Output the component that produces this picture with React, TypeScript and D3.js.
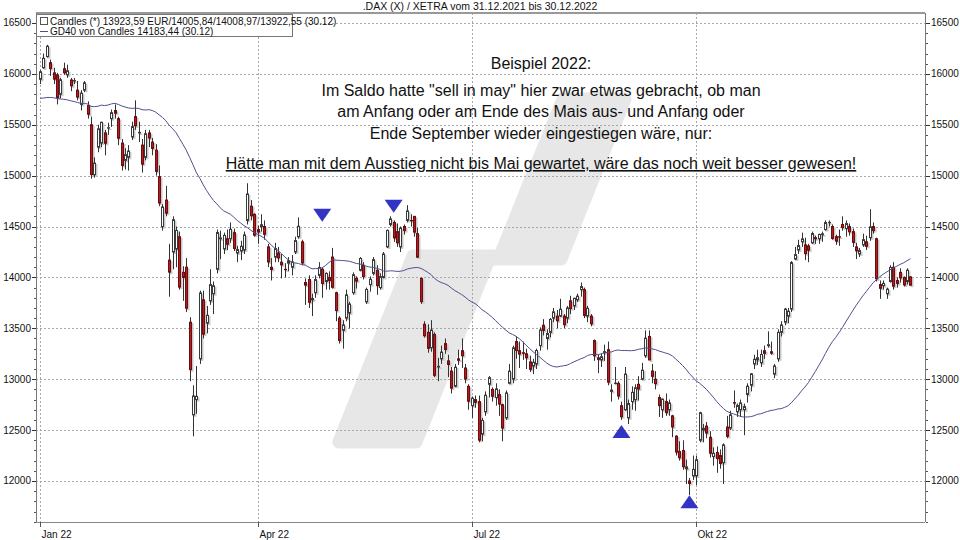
import React from "react";
import * as d3 from "d3";

// ---------- data ----------
const opens = [
  15946,16060,16170,16110,16010,15990,15800,16050,15990,15940,15930,15840,15700,15840,15690,15500,15010,15280,15320,15420,15470,
  15560,15640,15560,15320,15150,15180,15380,15580,15420,15300,15180,15420,15330,15250,14990,14500,14760,14170,14250,14280,
  14400,14050,14100,13560,12650,12800,13200,13780,13550,13770,13840,14080,14380,14280,14380,14380,14440,14240,14260,14270,14560,14700,14620,
  14470,14500,14500,14300,14100,14200,14240,14150,14080,14140,14100,14250,14400,14350,13950,13980,13780,13850,14020,
  14080,13960,14000,14200,13850,13600,13480,13600,13650,13850,13990,14070,14120,13760,13930,14040,14070,13900,14000,14300,14520,14540,
  14450,14300,14500,14560,14560,14600,14430,13990,13540,13460,13310,13440,13120,13200,13350,13180,13080,12930,13200,13280,13110,12930,
  12740,12800,12780,12460,12680,12950,12900,12820,12850,12750,12620,12960,13000,13370,13280,13260,13250,13170,13130,13150,13330,
  13530,13400,13460,13600,13620,13620,13620,13600,13770,13720,13780,13880,13880,13620,13620,13380,13210,13190,13260,13290,12880,12960,12960,
  12740,12700,12620,12780,12800,12950,13000,13230,13420,13080,13000,12820,12700,12780,12700,12640,12440,12290,12300,12120,12000,12050,
  12050,12400,12500,12540,12430,12240,12280,12250,12180,12530,12520,12770,12680,12700,12700,12850,12940,13150,13190,13160,13280,
  13330,13270,13050,13200,13460,13560,13620,13690,14180,14270,14350,14320,14310,14340,14390,14380,14420,14470,14540,14500,14400,14400,
  14520,14480,14500,14450,14300,14230,14320,14350,14390,14500,14380,13930,13920,13840,13960,14100,13970,14050,14000,13960,14005.84,
];
const highs = [
  16040,16200,16285,16140,16060,16010,15960,16110,16090,15960,15960,15930,15840,15930,15730,15580,15180,15500,15530,15450,15520,
  15650,15700,15580,15360,15270,15300,15530,15740,15530,15360,15450,15450,15370,15310,15100,14720,14900,14330,14600,14500,
  14450,14110,14190,13610,12940,13130,13870,13870,13720,14080,13960,14470,14460,14440,14470,14540,14480,14310,14360,14450,14925,14760,14630,
  14510,14620,14560,14330,14190,14340,14300,14230,14140,14200,14220,14400,14590,14370,13990,14020,13840,14020,14150,
  14100,14050,14060,14290,13860,13620,13580,13880,13760,14050,14010,14200,14150,13900,14010,14200,14120,14040,14250,14470,14600,14560,
  14530,14500,14520,14710,14620,14600,14490,14000,13570,13540,13580,13460,13210,13330,13400,13240,13120,13150,13290,13400,13150,12950,
  12830,12840,12840,12620,12880,13030,12920,12960,12900,12760,12890,13150,13330,13420,13370,13370,13300,13230,13200,13300,13510,
  13590,13490,13600,13700,13680,13790,13640,13720,13820,13800,13840,13950,13900,13720,13640,13390,13240,13250,13340,13370,12950,13120,12980,
  12780,13120,12800,12930,12950,13030,13160,13480,13480,13150,13080,12850,12810,12860,12800,12650,12450,12390,12400,12210,12030,12250,
  12250,12680,12560,12580,12490,12330,12340,12310,12370,12640,12690,12890,12760,12800,12760,12960,13060,13240,13290,13290,13330,
  13470,13370,13150,13490,13570,13700,13700,14160,14300,14370,14440,14390,14330,14450,14410,14430,14450,14560,14560,14520,14420,14470,
  14600,14560,14530,14480,14340,14290,14430,14410,14670,14540,14390,13970,13970,13900,14120,14150,14000,14090,14010,14090,14008.97,
];
const lows = [
  15900,16050,16160,15980,15900,15700,15760,15990,15960,15830,15900,15740,15640,15820,15560,14970,14980,15230,15280,15200,15400,
  15480,15560,15300,15050,15060,15050,15350,15450,15330,15030,15150,15280,15200,15000,14700,14460,14600,13810,14080,14100,
  13880,13770,13660,12980,12439,12660,13150,13400,13450,13730,13640,14040,14180,14230,14270,14340,14260,14150,14170,14230,14520,14560,14400,
  14330,14450,14370,14100,13970,14150,14150,13990,14000,14060,14020,14230,14380,14120,13730,13700,13620,13800,13990,
  13800,13880,13880,13890,13570,13350,13300,13570,13500,13830,13890,14060,13980,13740,13860,14020,13830,13880,13990,14290,14500,14350,
  14300,14250,14420,14540,14500,14400,14190,13740,13410,13260,13270,13020,12980,13150,13250,13020,12860,12920,13140,13110,12960,12700,
  12620,12720,12380,12390,12640,12820,12780,12740,12640,12390,12600,12950,12960,13200,13110,13190,13100,13070,13050,13100,13280,
  13430,13290,13410,13560,13500,13610,13500,13550,13640,13680,13760,13810,13600,13560,13520,13180,13060,13120,13180,12940,12780,12950,12800,
  12600,12690,12560,12700,12690,12790,12990,13210,13190,12960,12900,12630,12620,12640,12640,12430,12250,12200,12110,11970,11862,12010,
  11960,12380,12380,12420,12230,12150,12080,12120,11970,12420,12500,12720,12630,12630,12450,12770,12880,13100,13140,13120,13200,
  13310,13240,13010,13170,13420,13530,13550,13660,14170,14230,14300,14170,14150,14330,14330,14330,14350,14460,14500,14370,14320,14310,
  14460,14400,14410,14300,14180,14200,14300,14270,14360,14430,13960,13790,13880,13790,13950,13880,13900,13950,13910,13930,13922.55,
];
const closes = [
  16021,16153,16271,16052,15948,15768,15942,16010,16031,15883,15934,15772,15810,15912,15603,15011,15123,15460,15524,15318,15471,
  15619,15613,15368,15100,15206,15242,15482,15490,15425,15113,15412,15370,15267,15042,14731,14693,14631,14052,14567,14461,
  13905,14000,13698,13094,12835,12832,13848,13443,13628,13929,13918,14441,14388,14413,14326,14473,14284,14274,14306,14418,14820,14606,14415,
  14446,14518,14424,14152,14078,14284,14193,14124,14076,14164,14153,14362,14502,14142,13924,13756,13793,13979,14098,
  13940,14039,13970,13903,13674,13381,13534,13829,13739,14027,13964,14186,14008,13882,13982,14175,13919,14008,14231,14462,14575,14388,
  14340,14485,14460,14653,14556,14445,14199,13762,13427,13304,13483,13038,13126,13266,13292,13145,12912,13118,13186,13231,13003,12784,
  12813,12773,12401,12595,12843,13015,12832,12905,12756,12520,12865,13079,13308,13282,13247,13254,13210,13097,13166,13282,13484,
  13479,13449,13588,13662,13574,13688,13535,13700,13694,13795,13816,13910,13627,13697,13544,13230,13195,13221,13271,12971,12893,12961,12835,
  12631,13050,12761,12871,12916,12904,13088,13403,13189,13028,12956,12741,12804,12671,12767,12531,12284,12228,12140,12139,11976,12114,
  12209,12671,12517,12471,12273,12272,12220,12172,12355,12438,12650,12765,12741,12767,12731,12931,13053,13196,13211,13243,13254,
  13339,13256,13130,13460,13533,13689,13667,14146,14224,14313,14379,14234,14267,14431,14380,14422,14428,14539,14541,14383,14356,14397,
  14490,14529,14448,14344,14261,14264,14371,14306,14497,14460,13986,13893,13942,13885,14098,13914,13941,13995,13926,14071,13923.59,
];
// the 39 closes before the first candle, needed for the 40-day average
const closesBefore = [
  16054,16046,16040,16067,16083,16094,16148,16248,16251,16221,16160,16116,15937,15878,15917,15257,15280,15100,
  15472,15263,15170,15380,15813,15687,15639,15623,15621,15453,15476,15636,15531,15239,15593,15676,15756,15745,15964,15852,15885,
];
const maPeriod = 40;
const holidays = ["2022-04-15", "2022-04-18", "2022-12-26"];
const yTickValues = [12000, 12500, 13000, 13500, 14000, 14500, 15000, 15500, 16000, 16500];
const yMinorStep = 100;
const monthTickDates = ["2022-01-03", "2022-04-01", "2022-07-01", "2022-10-03"];
const monthTickLabels = ["Jan 22", "Apr 22", "Jul 22", "Okt 22"];
const markerDates = ["2022-05-02", "2022-05-31", "2022-09-01", "2022-09-29"];
const markerDirections = ["down", "down", "up", "up"];
const markerValues = [14610, 14700, 12485, 11795];
const titleText = ".DAX (X) / XETRA vom 31.12.2021 bis 30.12.2022";
const legendCandles = "Candles (*) 13923,59 EUR/14005,84/14008,97/13922,55 (30.12)";
const legendAverage = "GD40 von Candles 14183,44 (30.12)";
const noteLines = [
  "Beispiel 2022:",
  "Im Saldo hatte \"sell in may\" hier zwar etwas gebracht, ob man",
  "am Anfang oder am Ende des Mais aus- und Anfang oder",
  "Ende September wieder eingestiegen wäre, nur:",
];
const noteUnderlined = "Hätte man mit dem Ausstieg nicht bis Mai gewartet, wäre das noch weit besser gewesen!";

// ---------- layout ----------
const W = 960;
const H = 540;
const PL = 36, PR = 925, PT = 13, PB = 522;
const FONT = "'Liberation Sans', Arial, Helvetica, sans-serif";
const UP_FILL = "#ffffff";
const DOWN_FILL = "#b31d22";
const MA_COLOR = "#4f4f8c";
const MARK_COLOR = "#3434c4";
const GRID = "#a8a8a8";
const SHADOW = "#c9c9c9";

export default function App() {
  const fmt = d3.timeFormat("%Y-%m-%d");
  const days = d3
    .timeDay.range(new Date(2022, 0, 3), new Date(2022, 11, 31))
    .filter((d) => d.getDay() !== 0 && d.getDay() !== 6 && !holidays.includes(fmt(d)));
  const dayIndex = new Map(days.map((d, i) => [fmt(d), i] as [string, number]));

  const x = d3.scaleLinear().domain([-1.2, 260.3]).range([PL, PR]);
  const y = d3.scaleLinear().domain([11597, 16598]).range([PB, PT]);

  const all = closesBefore.concat(closes);
  const ma = closes.map((_, i) => d3.mean(all.slice(i, i + maPeriod)) as number);
  const maPath = d3
    .line<number>()
    .x((_, i) => x(i))
    .y((v) => y(v))(ma) as string;

  const minorTicks = d3.range(11600, 16600, yMinorStep).filter((v) => y(v) >= PT && y(v) <= PB);
  const snap = (v: number) => Math.round(v) + 0.5;

  const noteX = 541;
  const noteY = [69, 96, 117, 139];

  return (
    <svg width={W} height={H} style={{ position: "absolute", left: 0, top: 0, background: "#fff" }} fontFamily={FONT}>
      <rect x={0} y={0} width={W} height={H} fill="#fff" />
      {/* watermark */}
      <path
        d="M339,442 L416,442 L489,259 L561,259 L625,99 L563,99 L500,256 L413,256 Z"
        fill="#e7e7e7"
        stroke="#e7e7e7"
        strokeWidth={13}
        strokeLinejoin="round"
      />
      {/* grid */}
      {yTickValues.map((v) => (
        <line key={"gy" + v} x1={PL} x2={PR} y1={snap(y(v))} y2={snap(y(v))} stroke={GRID} strokeDasharray="2,2" />
      ))}
      {monthTickDates.map((d) => {
        const gx = snap(x(dayIndex.get(d) as number));
        return <line key={"gx" + d} x1={gx} x2={gx} y1={PT} y2={PB} stroke={GRID} strokeDasharray="2,2" />;
      })}
      {/* annotation */}
      {noteLines.map((t, i) => (
        <text key={"n" + i} x={noteX} y={noteY[i]} textAnchor="middle" fontSize={16} fill="#111">
          {t}
        </text>
      ))}
      <text x={noteX} y={169} textAnchor="middle" fontSize={16} fill="#111" textDecoration="underline">
        {noteUnderlined}
      </text>
      {/* candle shadows */}
      {closes.map((c, i) => {
        const o = opens[i];
        const cx = snap(x(i)) + 1.5;
        const top = y(Math.max(o, c)) + 1.5;
        const bot = y(Math.min(o, c)) + 1.5;
        return (
          <rect key={"s" + i} x={cx - 1} y={top} width={2} height={Math.max(bot - top, 0.4)} fill={SHADOW} stroke={SHADOW} />
        );
      })}
      {/* candles */}
      {closes.map((c, i) => {
        const o = opens[i];
        const cx = snap(x(i));
        const up = c >= o;
        const top = y(Math.max(o, c));
        const bot = y(Math.min(o, c));
        return (
          <g key={"c" + i}>
            <line x1={cx} x2={cx} y1={y(highs[i])} y2={y(lows[i])} stroke="#333" strokeWidth={1} />
            <rect
              x={cx - 1}
              y={top}
              width={2}
              height={Math.max(bot - top, 0.4)}
              fill={up ? UP_FILL : DOWN_FILL}
              stroke={up ? "#3a3a3a" : "#6e0d10"}
              strokeWidth={1}
            />
          </g>
        );
      })}
      {/* moving average */}
      <path d={maPath} fill="none" stroke={MA_COLOR} strokeWidth={1} />
      {/* markers */}
      {markerDates.map((d, i) => {
        const mx = x(dayIndex.get(d) as number);
        const my = y(markerValues[i]);
        const h = 6.5;
        const w = 9;
        const p =
          markerDirections[i] === "down"
            ? `M${mx - w},${my - h}L${mx + w},${my - h}L${mx},${my + h}Z`
            : `M${mx - w},${my + h}L${mx + w},${my + h}L${mx},${my - h}Z`;
        return <path key={"m" + i} d={p} fill={MARK_COLOR} />;
      })}
      {/* frame */}
      <line x1={PL} x2={PR} y1={PT} y2={PT} stroke="#999" strokeWidth={2} />
      <line x1={PL} x2={PR} y1={PB + 0.5} y2={PB + 0.5} stroke="#888" />
      <line x1={PL + 0.5} x2={PL + 0.5} y1={PT} y2={PB} stroke="#777" />
      <line x1={PR + 0.5} x2={PR + 0.5} y1={PT} y2={PB} stroke="#777" />
      {/* y axes */}
      {minorTicks.map((v) => (
        <g key={"mt" + v}>
          <line x1={PL - 2} x2={PL} y1={snap(y(v))} y2={snap(y(v))} stroke="#555" />
          <line x1={PR + 1} x2={PR + 3} y1={snap(y(v))} y2={snap(y(v))} stroke="#555" />
        </g>
      ))}
      {yTickValues.map((v) => (
        <g key={"yt" + v}>
          <line x1={PL - 4} x2={PL} y1={snap(y(v))} y2={snap(y(v))} stroke="#333" />
          <line x1={PR + 1} x2={PR + 5} y1={snap(y(v))} y2={snap(y(v))} stroke="#333" />
          <text x={PL - 5} y={y(v) + 3.5} textAnchor="end" fontSize={10} fill="#111">
            {v}
          </text>
          <text x={PR + 6} y={y(v) + 3.5} textAnchor="start" fontSize={10} fill="#111">
            {v}
          </text>
        </g>
      ))}
      {/* x axis */}
      {monthTickDates.map((d, i) => {
        const gx = snap(x(dayIndex.get(d) as number));
        return (
          <g key={"xt" + d}>
            <line x1={gx} x2={gx} y1={PB} y2={PB + 5} stroke="#555" />
            <text x={gx + 1} y={538} fontSize={10} fill="#111">
              {monthTickLabels[i]}
            </text>
          </g>
        );
      })}
      {/* title */}
      <text x={480} y={10} textAnchor="middle" fontSize={10.5} fill="#111">
        {titleText}
      </text>
      {/* legend */}
      <rect x={36.5} y={14.5} width={256} height={22} fill="#fff" stroke="#777" />
      <rect x={40.5} y={17.5} width={7} height={7} fill="#fff" stroke="#555" />
      <text x={50} y={24.5} fontSize={10} fill="#111">
        {legendCandles}
      </text>
      <line x1={40} x2={48} y1={31.5} y2={31.5} stroke={MA_COLOR} />
      <text x={50} y={34.5} fontSize={10} fill="#111">
        {legendAverage}
      </text>
    </svg>
  );
}
